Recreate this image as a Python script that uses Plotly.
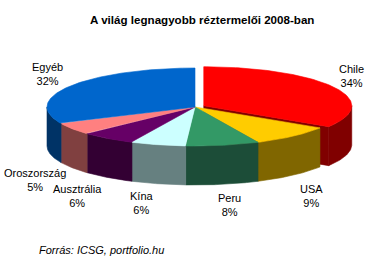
import numpy as np
import plotly.graph_objects as go

# ---- data ----
categories = ["Chile", "USA", "Peru", "Kína", "Ausztrália", "Oroszország", "Egyéb"]
values = [34, 9, 8, 6, 6, 5, 32]
top_colors = ["#FF0000", "#FFCC00", "#339966", "#CCFFFF", "#660066", "#FF8080", "#0066CC"]
side_colors = ["#800000", "#806600", "#1C4D38", "#668080", "#330033", "#804040", "#003366"]
explode = [10, 0, 0, 0, 0, 0, 0]

title_text = "A világ legnagyobb réztermelői 2008-ban"
source_text = "Forrás: ICSG, portfolio.hu"

# ---- layout geometry (pixel space) ----
W, H = 381, 262
CX, CY = 195, 107      # centre of top face
A, B = 148, 39         # ellipse semi-axes
D = 39                 # depth of the pie
label_pos = [(351, 76), (311, 196), (229, 205), (142, 203), (77, 196), (35, 180), (47, 74)]

fig = go.Figure()

def pt(theta_deg, dx=0.0, dy=0.0, down=0.0):
    t = np.radians(theta_deg)
    return CX + dx + A * np.sin(t), CY + dy - B * np.cos(t) + down

total = float(sum(values))
bounds = []
acc = 0.0
for v in values:
    start = acc / total * 360.0
    acc += v
    end = acc / total * 360.0
    bounds.append((start, end))

offsets = []
for (s, e), ex in zip(bounds, explode):
    mid = np.radians((s + e) / 2)
    offsets.append((ex * np.sin(mid), -ex * np.cos(mid) * B / A))

def add_poly(xs, ys, color):
    fig.add_trace(go.Scatter(x=list(xs) + [xs[0]], y=list(ys) + [ys[0]], mode="lines",
                             fill="toself", fillcolor=color,
                             line=dict(color=color, width=0.6),
                             hoverinfo="skip", showlegend=False))

def draw_slice(i):
    s, e = bounds[i]
    dx, dy = offsets[i]
    # radial wall at the end edge (visible for exploded slice)
    if explode[i] > 0:
        ex, ey = pt(e, dx, dy)
        add_poly([CX + dx, ex, ex, CX + dx], [CY + dy, ey, ey + D, CY + dy + D], side_colors[i])
    # outer side wall (front half only)
    a0, a1 = max(s, 90.0), min(e, 270.0)
    if a1 > a0:
        th = np.linspace(a0, a1, 60)
        top = [pt(t, dx, dy) for t in th]
        bot = [pt(t, dx, dy, D) for t in th[::-1]]
        xs = [p[0] for p in top] + [p[0] for p in bot]
        ys = [p[1] for p in top] + [p[1] for p in bot]
        add_poly(xs, ys, side_colors[i])
    # top face
    th = np.linspace(s, e, 120)
    arc = [pt(t, dx, dy) for t in th]
    xs = [CX + dx] + [p[0] for p in arc]
    ys = [CY + dy] + [p[1] for p in arc]
    add_poly(xs, ys, top_colors[i])

# draw exploded slice first, then the rest
order = [i for i in range(len(values)) if explode[i] > 0] + [i for i in range(len(values)) if explode[i] == 0]
for i in order:
    draw_slice(i)

annotations = []
for cat, v, (lx, ly) in zip(categories, values, label_pos):
    annotations.append(dict(x=lx, y=ly, xref="x", yref="y", text=f"{cat}<br>{v}%",
                            showarrow=False, align="center",
                            font=dict(family="Liberation Sans, Arial", size=11, color="#000000")))
annotations.append(dict(x=202, y=19, xref="x", yref="y", text=f"<b>{title_text}</b>",
                        showarrow=False, font=dict(family="Liberation Sans, Arial", size=11.6, color="#000000")))
annotations.append(dict(x=37, y=250, xref="x", yref="y", text=f"<i>{source_text}</i>",
                        showarrow=False, xanchor="left",
                        font=dict(family="Liberation Sans, Arial", size=11, color="#000000")))

fig.update_layout(
    width=W, height=H, margin=dict(l=0, r=0, t=0, b=0),
    paper_bgcolor="white", plot_bgcolor="white",
    xaxis=dict(range=[0, W], visible=False, fixedrange=True),
    yaxis=dict(range=[H, 0], visible=False, fixedrange=True),
    annotations=annotations,
)

fig.write_html("out.html")
